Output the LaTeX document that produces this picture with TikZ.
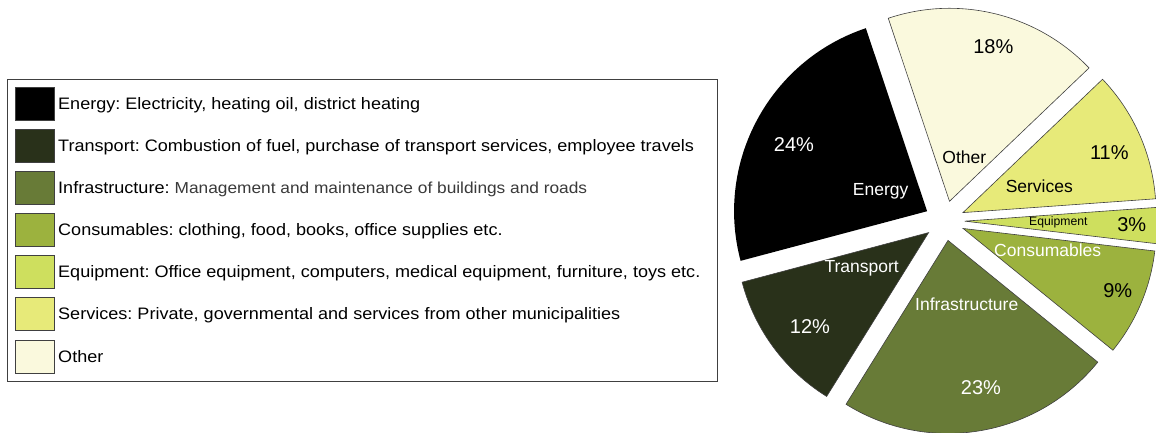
\documentclass[tikz,border=0pt]{standalone}
\usepackage{fontspec}
\setmainfont{Liberation Sans}
\newfontfamily\legfont[FakeStretch=1.088]{Liberation Sans}
\definecolor{cEnergy}{HTML}{000000}
\definecolor{cTransport}{HTML}{29311A}
\definecolor{cInfra}{HTML}{687B37}
\definecolor{cCons}{HTML}{9CB23E}
\definecolor{cEquip}{HTML}{CEDF5E}
\definecolor{cServ}{HTML}{E7EA79}
\definecolor{cOther}{HTML}{FAF9DD}
\definecolor{lineGray}{HTML}{404040}
\definecolor{descGray}{HTML}{3A3A3A}
\begin{document}
\frenchspacing
\begin{tikzpicture}[x=1pt,y=-1pt,
  swatch/.style={draw=lineGray, line width=0.8pt, minimum width=39pt, minimum height=33pt, inner sep=0pt},
  legtext/.style={anchor=base west, inner sep=0pt, font=\legfont\fontsize{16.6}{18}\selectfont},
  slice/.style={draw=lineGray, line width=0.6pt},
  pname/.style={inner sep=0pt, font=\fontsize{17.5}{19}\selectfont},
  ppct/.style={inner sep=0pt, font=\fontsize{20}{22}\selectfont},
]
\useasboundingbox (0,0) rectangle (1156,433);
\fill[white] (0,0) rectangle (1156,433);
\clip (0,0) rectangle (1156,433);

% legend
\draw[draw=lineGray, line width=1pt] (7.5,80) rectangle (717.5,381.5);
\node[swatch, fill=cEnergy]    (swE) at (34.5,103.7) {};
\node[swatch, fill=cTransport] (swT) at (34.5,145.7) {};
\node[swatch, fill=cInfra]     (swI) at (34.5,187.7) {};
\node[swatch, fill=cCons]      (swC) at (34.5,229.7) {};
\node[swatch, fill=cEquip]     (swQ) at (34.5,271.7) {};
\node[swatch, fill=cServ]      (swS) at (34.5,313.7) {};
\node[swatch, fill=cOther]     (swO) at (34.5,357.0) {};
\node[legtext] (tE) at (58,109.6) {Energy: Electricity, heating oil, district heating};
\node[legtext] (tT) at (58,151.6) {Transport: Combustion of fuel, purchase of transport services, employee travels};
\node[legtext] (tI) at (58,193.6) {Infrastructure: {\color{descGray}\fontsize{15.9}{18}\selectfont Management and maintenance of buildings and roads}};
\node[legtext] (tC) at (58,235.6) {Consumables: clothing, food, books, office supplies etc.};
\node[legtext] (tQ) at (58,277.6) {Equipment: Office equipment, computers, medical equipment, furniture, toys etc.};
\node[legtext] (tS) at (58,319.6) {Services: Private, governmental and services from other municipalities};
\node[legtext] (tO) at (58,362.9) {Other};

% pie
\begin{scope}[shift={(944.7,220.7)}, yscale=-1]
\def\R{193}
\def\D{20}
\fill[cEnergy] ({(108.5+194.9)/2}:\D) -- ++(108.5:\R) arc[start angle=108.5, end angle=194.9, radius=\R] -- cycle;
\draw[slice, fill=cTransport] ({(194.9+238.1)/2}:\D) -- ++(194.9:\R) arc[start angle=194.9, end angle=238.1, radius=\R] -- cycle;
\draw[slice, fill=cInfra] ({(238.1+320.9)/2}:\D) -- ++(238.1:\R) arc[start angle=238.1, end angle=320.9, radius=\R] -- cycle;
\draw[slice, fill=cCons] ({(320.9+353.3)/2}:\D) -- ++(320.9:\R) arc[start angle=320.9, end angle=353.3, radius=\R] -- cycle;
\draw[slice, fill=cEquip] ({(353.3+364.1)/2}:\D) -- ++(353.3:\R) arc[start angle=353.3, end angle=364.1, radius=\R] -- cycle;
\draw[slice, fill=cServ] ({(364.1+403.7)/2}:\D) -- ++(364.1:\R) arc[start angle=364.1, end angle=403.7, radius=\R] -- cycle;
\draw[slice, fill=cOther] ({(403.7+468.5)/2}:\D) -- ++(403.7:\R) arc[start angle=403.7, end angle=468.5, radius=\R] -- cycle;
\end{scope}

% pie labels
\node[ppct, text=black] (p18) at (993.3,46.7) {18\%};
\node[pname, text=black] (lOther) at (964.3,157.3) {Other};
\node[ppct, text=white] (p24) at (794,145) {24\%};
\node[pname, text=white] (lEnergy) at (880.7,191) {Energy};
\node[ppct, text=black] (p11) at (1109.3,152.3) {11\%};
\node[pname, text=black] (lServ) at (1039.3,186) {Services};
\node[inner sep=0pt, font=\fontsize{12.2}{14}\selectfont, text=black] (lEquip) at (1058.3,222.3) {Equipment};
\node[ppct, text=black] (p3) at (1131.7,224.3) {3\%};
\node[pname, text=white] (lCons) at (1047.7,250.7) {Consumables};
\node[ppct, text=black] (p9) at (1117.7,290.7) {9\%};
\node[pname, text=white] (lInfra) at (966.7,304) {Infrastructure};
\node[ppct, text=white] (p23) at (981,387.7) {23\%};
\node[pname, text=white] (lTrans) at (861.7,268.3) {Transport};
\node[ppct, text=white] (p12) at (810,326.7) {12\%};
\end{tikzpicture}
\end{document}
